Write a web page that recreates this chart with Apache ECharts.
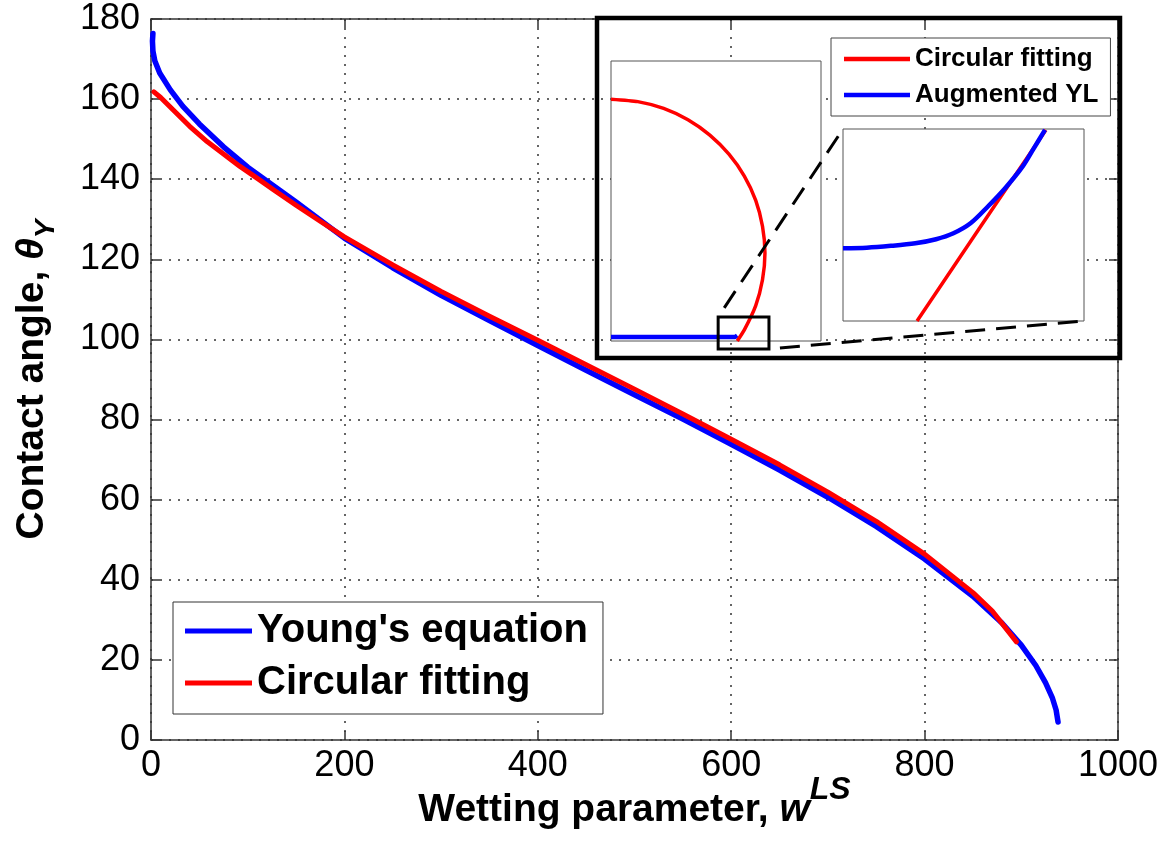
<!DOCTYPE html>
<html><head><meta charset="utf-8">
<script src="https://cdn.jsdelivr.net/npm/echarts@6/dist/echarts.min.js"></script>
<style>html,body{margin:0;padding:0;background:#fff}#c{width:1170px;height:846px}</style>
</head><body><div id="c"></div>
<script>
// ---- main axes ----
const xTickValues = [0, 200, 400, 600, 800, 1000];
const yTickValues = [0, 20, 40, 60, 80, 100, 120, 140, 160, 180];

// ---- main series ----
const youngX = [2, 1.5, 2, 4, 9, 20, 33, 50, 75, 100, 150, 200, 250, 300, 350, 400, 450, 500, 550, 600, 650, 700, 750, 800, 850, 880, 900, 915, 925, 932, 936, 938];
const youngY = [176.4, 174.5, 172, 169.5, 166.5, 162.3, 158.2, 153.8, 148.1, 143.0, 134.3, 125.3, 117.9, 111.0, 104.7, 98.5, 92.3, 86.2, 80.1, 73.8, 67.4, 60.6, 53.3, 45.2, 35.9, 29.2, 23.7, 18.6, 14.3, 10.6, 7.5, 4.5];

const circX = [3, 5, 10, 23, 40, 58, 75, 92, 110, 127, 150, 175, 200, 250, 300, 350, 400, 450, 500, 550, 600, 650, 700, 750, 800, 850, 870, 895];
const circY = [161.8, 161.4, 160.4, 157.3, 153.2, 149.4, 146.3, 143.2, 140.2, 137.3, 133.5, 129.5, 125.6, 118.6, 112.0, 105.8, 99.8, 93.7, 87.6, 81.4, 75.1, 68.7, 61.9, 54.6, 46.4, 36.8, 32.2, 24.5];

// ---- inset: droplet profile (lattice units) ----
const dropRangeX = [0, 68.2];
const dropRangeY = [0, 91];
const dropArcX = [0, 8.7, 17.1, 25, 32.1, 38.3, 43.3, 47, 49.2, 50, 49.2, 47, 43.3, 41];
const dropArcY = [78.6, 77.8, 75.6, 71.9, 66.9, 60.7, 53.6, 45.7, 37.3, 28.6, 19.9, 11.5, 3.6, 0];
const surfaceX = [0, 40.3, 41];
const surfaceY = [1.3, 1.3, 1.8];

// ---- inset: zoomed contact-line region ----
const zoomRegionX = [34.8, 51.3];
const zoomRegionY = [-2.6, 7.8];
const zoomBlueX = [34.8, 36.43, 38.08, 39.75, 41.17, 42.36, 43.53, 44.72, 45.9, 47.09, 47.8, 48.63];
const zoomBlueY = [1.34, 1.37, 1.47, 1.61, 1.83, 2.15, 2.69, 3.6, 4.59, 5.76, 6.67, 7.75];
const zoomRedX = [39.87, 44.29, 48.69];
const zoomRedY = [-2.6, 2.6, 7.75];

const pairs = (xs, ys) => xs.map((x, i) => [x, ys[i]]);
const FF = "'Liberation Sans', Arial, Helvetica, sans-serif";
const AX = '#333';

function frameAxis(extra) {
  return Object.assign({
    type: 'value',
    axisLine: { show: true, onZero: false, lineStyle: { color: AX, width: 1.5 } },
    axisTick: { show: true, inside: true, length: 9, lineStyle: { color: AX, width: 1.5 } },
    axisLabel: { show: false },
    splitLine: { show: false }
  }, extra);
}

const chart = echarts.init(document.getElementById('c'));
const option = {
  animation: false,
  backgroundColor: '#fff',
  grid: [
    { left: 151, top: 19, width: 967, height: 721, containLabel: false, outerBoundsMode: 'none' },
    { left: 611, top: 61, width: 210, height: 280, show: true, backgroundColor: '#fff', borderColor: '#555', borderWidth: 1, z: 1, containLabel: false, outerBoundsMode: 'none' },
    { left: 843, top: 129, width: 241, height: 192, show: true, backgroundColor: '#fff', borderColor: '#555', borderWidth: 1, z: 1, containLabel: false, outerBoundsMode: 'none' }
  ],
  xAxis: [
    frameAxis({
      gridIndex: 0, min: xTickValues[0], max: xTickValues[xTickValues.length - 1],
      interval: xTickValues[1] - xTickValues[0], position: 'bottom',
      axisLabel: { show: true, fontSize: 36, fontFamily: FF, color: '#000', margin: 8, showMinLabel: true, showMaxLabel: true, formatter: v => String(v) },
      splitLine: { show: true, lineStyle: { color: AX, width: 1.5, type: [2, 7] } },
      name: '{a|Wetting parameter, }{w|w}{s|LS}',
      nameLocation: 'middle', nameGap: 34, nameMoveOverlap: false,
      nameTextStyle: {
        rich: {
          a: { fontSize: 39, fontWeight: 'bold', fontFamily: FF, color: '#000', lineHeight: 72 },
          w: { fontSize: 39, fontWeight: 'bold', fontStyle: 'italic', fontFamily: FF, color: '#000', lineHeight: 72 },
          s: { fontSize: 32, fontWeight: 'bold', fontStyle: 'italic', fontFamily: FF, color: '#000', lineHeight: 32, verticalAlign: 'top' }
        }
      }
    }),
    frameAxis({ gridIndex: 0, min: 0, max: 1000, interval: 200, position: 'top' }),
    { gridIndex: 1, type: 'value', min: dropRangeX[0], max: dropRangeX[1], show: false },
    { gridIndex: 2, type: 'value', min: zoomRegionX[0], max: zoomRegionX[1], show: false }
  ],
  yAxis: [
    frameAxis({
      gridIndex: 0, min: yTickValues[0], max: yTickValues[yTickValues.length - 1],
      interval: yTickValues[1] - yTickValues[0], position: 'left',
      axisLabel: { show: true, fontSize: 36, fontFamily: FF, color: '#000', margin: 11, showMinLabel: true, showMaxLabel: true, formatter: v => String(v) },
      splitLine: { show: true, lineStyle: { color: AX, width: 1.5, type: [2, 7] } },
      name: '{a|Contact angle, }{t|θ}{s|Y}',
      nameLocation: 'middle', nameRotate: 90, nameGap: 91, nameMoveOverlap: false,
      nameTextStyle: {
        rich: {
          a: { fontSize: 39, fontWeight: 'bold', fontFamily: FF, color: '#000', lineHeight: 56 },
          t: { fontSize: 39, fontWeight: 'bold', fontStyle: 'italic', fontFamily: FF, color: '#000', lineHeight: 56 },
          s: { fontSize: 28, fontWeight: 'bold', fontStyle: 'italic', fontFamily: FF, color: '#000', lineHeight: 30, verticalAlign: 'bottom' }
        }
      }
    }),
    frameAxis({ gridIndex: 0, min: 0, max: 180, interval: 20, position: 'right' }),
    { gridIndex: 1, type: 'value', min: dropRangeY[0], max: dropRangeY[1], show: false },
    { gridIndex: 2, type: 'value', min: zoomRegionY[0], max: zoomRegionY[1], show: false }
  ],
  legend: [
    {
      data: ["Young's equation", 'Circular fitting'],
      orient: 'vertical', left: 173, top: 602, padding: [7, 15, 9, 12], itemGap: 8,
      itemWidth: 67, itemHeight: 5, icon: 'rect', selectedMode: false,
      backgroundColor: '#fff', borderColor: '#333', borderWidth: 1, borderRadius: 0,
      textStyle: { fontSize: 40, fontWeight: 'bold', fontFamily: FF, color: '#000', lineHeight: 44 }
    },
    {
      data: ['Circular fitting', 'Augmented YL'],
      orient: 'vertical', left: 831, top: 38, padding: [6, 12, 6, 13], itemGap: 6,
      itemWidth: 66, itemHeight: 4.5, icon: 'rect', selectedMode: false,
      backgroundColor: '#fff', borderColor: '#444', borderWidth: 1, borderRadius: 0,
      textStyle: { fontSize: 26, fontWeight: 'bold', fontFamily: FF, color: '#000', lineHeight: 30 }
    }
  ],
  series: [
    { type: 'line', name: "Young's equation", xAxisIndex: 0, yAxisIndex: 0, data: pairs(youngX, youngY), symbol: 'none', silent: true,
      itemStyle: { color: '#0000ff' }, lineStyle: { color: '#0000ff', width: 5.5, cap: 'round', join: 'round' } },
    { type: 'line', name: 'Circular fitting', xAxisIndex: 0, yAxisIndex: 0, data: pairs(circX, circY), symbol: 'none', silent: true,
      itemStyle: { color: '#ff0000' }, lineStyle: { color: '#ff0000', width: 5, cap: 'round', join: 'round' } },
    { type: 'line', name: 'Augmented YL', xAxisIndex: 2, yAxisIndex: 2, data: pairs(surfaceX, surfaceY), symbol: 'none', silent: true,
      itemStyle: { color: '#0000ff' }, lineStyle: { color: '#0000ff', width: 4.5 } },
    { type: 'line', name: 'Circular fitting', xAxisIndex: 2, yAxisIndex: 2, data: pairs(dropArcX, dropArcY), symbol: 'none', silent: true, smooth: 0.2,
      itemStyle: { color: '#ff0000' }, lineStyle: { color: '#ff0000', width: 3.5 } },
    { type: 'line', name: 'Circular fitting', xAxisIndex: 3, yAxisIndex: 3, data: pairs(zoomRedX, zoomRedY), symbol: 'none', silent: true,
      itemStyle: { color: '#ff0000' }, lineStyle: { color: '#ff0000', width: 3.5 } },
    { type: 'line', name: 'Augmented YL', xAxisIndex: 3, yAxisIndex: 3, data: pairs(zoomBlueX, zoomBlueY), symbol: 'none', silent: true, smooth: 0.3,
      itemStyle: { color: '#0000ff' }, lineStyle: { color: '#0000ff', width: 4.5 } }
  ]
};
chart.setOption(option);

// zoom-region marker and connectors, placed through the inset axes
const rTL = chart.convertToPixel({ xAxisIndex: 2, yAxisIndex: 2 }, [zoomRegionX[0], zoomRegionY[1]]);
const rBR = chart.convertToPixel({ xAxisIndex: 2, yAxisIndex: 2 }, [zoomRegionX[1], zoomRegionY[0]]);
const pTL = chart.convertToPixel({ xAxisIndex: 3, yAxisIndex: 3 }, [zoomRegionX[0], zoomRegionY[1]]);
const pBR = chart.convertToPixel({ xAxisIndex: 3, yAxisIndex: 3 }, [zoomRegionX[1], zoomRegionY[0]]);
chart.setOption({
  graphic: [
    { type: 'rect', z: 10, silent: true, shape: { x: 597, y: 18, width: 523, height: 340 },
      style: { fill: 'none', stroke: '#000', lineWidth: 4.5 } },
    { type: 'rect', z: 10, silent: true, shape: { x: rTL[0], y: rTL[1], width: rBR[0] - rTL[0], height: rBR[1] - rTL[1] },
      style: { fill: 'none', stroke: '#000', lineWidth: 3 } },
    { type: 'line', z: 10, silent: true, shape: { x1: rTL[0], y1: rTL[1], x2: pTL[0], y2: pTL[1] },
      style: { stroke: '#000', lineWidth: 3, lineDash: [20, 11], lineDashOffset: 20 } },
    { type: 'line', z: 10, silent: true, shape: { x1: rBR[0], y1: rBR[1], x2: pBR[0], y2: pBR[1] },
      style: { stroke: '#000', lineWidth: 3, lineDash: [20, 11], lineDashOffset: 20 } }
  ]
});
</script>
</body></html>
